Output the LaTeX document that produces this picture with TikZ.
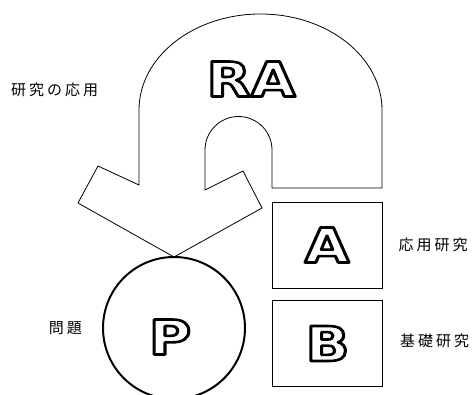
\documentclass[tikz,border=0pt]{standalone}
\usepackage{fontspec}
\setsansfont{DejaVu Sans}
\newfontfamily\jpfont[LetterSpace=20]{Noto Sans CJK JP}
\usetikzlibrary{positioning}
\newcommand{\hollowtext}[1]{\scalebox{1.2}[1]{\special{pdf:literal direct 1 Tr 2.6 w 1 j}#1\special{pdf:literal direct 0 Tr}}}

\begin{document}
\begin{tikzpicture}[x=1pt, y=1pt,
	bigletter/.style={font=\sffamily\bfseries\fontsize{48}{48}\selectfont, inner sep=0pt},
	panel/.style={draw, line width=0.9pt, minimum width=110pt, minimum height=86pt},
	jplabel/.style={font=\jpfont\fontsize{15}{15}\selectfont, inner sep=0pt}]
	\useasboundingbox (0,0) rectangle (476,394);
	\draw[line width=0.8pt, line join=round] (139,209) -- (139,284)
		arc[start angle=180, end angle=0, x radius=121.5, y radius=96] -- (382,206) -- (272,206) -- (272,244)
		arc[start angle=0, end angle=180, radius=33.5] -- (205,204) -- (243,223) -- (262,186)
		-- (174,137) -- (78,191) -- (98,228) -- cycle;
	\node[bigletter] (ra) at (251,315) {\hollowtext{RA}};
	\node[panel, bigletter] (boxA) at (327,149) {\hollowtext{A}};
	\node[panel, bigletter] (boxB) at (327.5,50.5) {\hollowtext{B}};
	\node[draw, circle, line width=2pt, minimum size=142pt, inner sep=0pt] (circP) at (174,66) {};
	\node[bigletter] (letP) at (170,57) {\hollowtext{P}};
	\node[jplabel, anchor=west] (lblRA) at (11,304) {研究の応用};
	\node[jplabel, right=16pt of boxA] (lblA) {応用研究};
	\node[jplabel, right=17pt of boxB, yshift=3pt] (lblB) {基礎研究};
	\node[jplabel, left=20pt of circP] (lblP) {問題};
\end{tikzpicture}
\end{document}
